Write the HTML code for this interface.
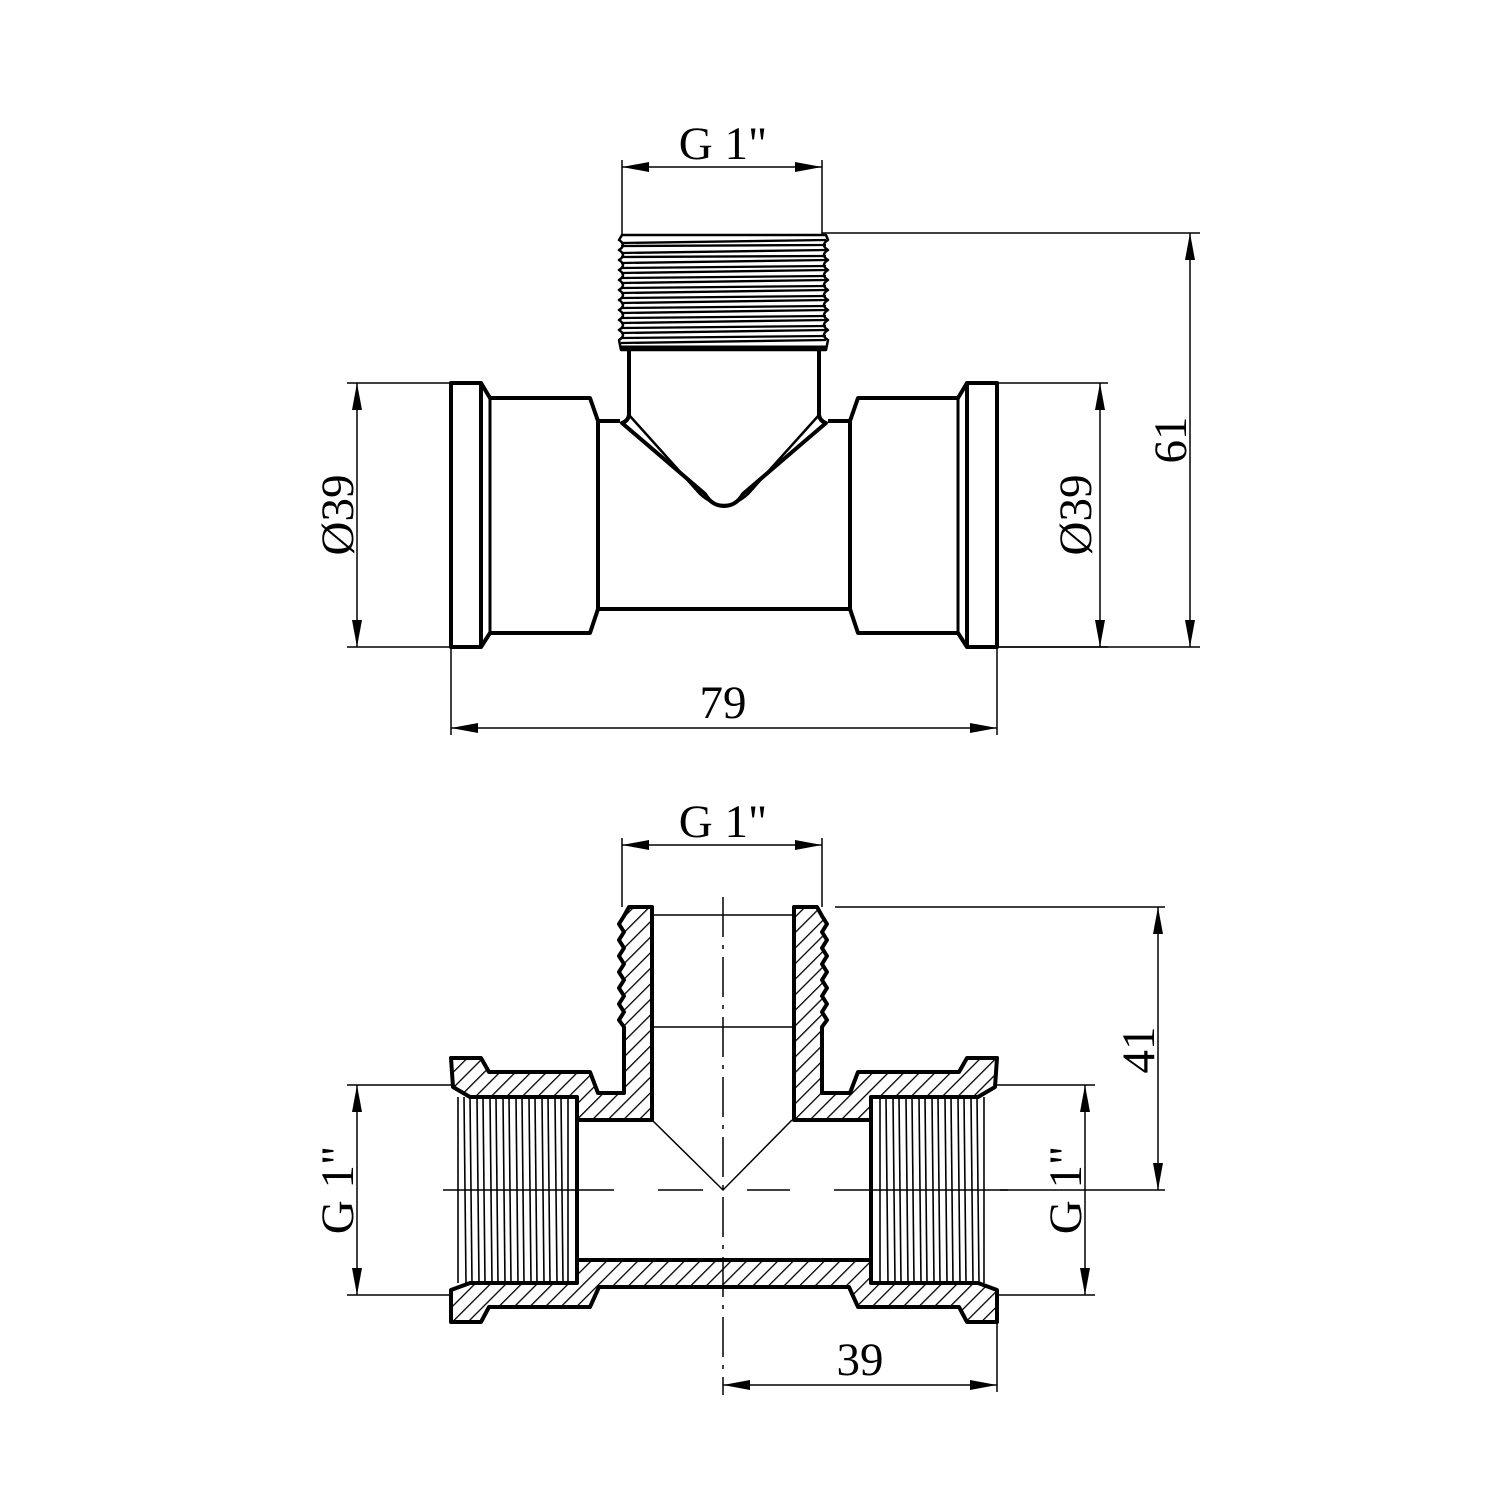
<!DOCTYPE html>
<html><head><style>html,body{margin:0;padding:0;background:#fff}svg{display:block}</style></head><body>
<svg width="1500" height="1500" viewBox="0 0 1500 1500" xmlns="http://www.w3.org/2000/svg">
<defs>
<pattern id="h" width="11" height="11" patternUnits="userSpaceOnUse" patternTransform="rotate(45)">
<line x1="0" y1="0" x2="0" y2="11" stroke="#000" stroke-width="2.6"/>
</pattern>
<marker id="a" viewBox="0 0 27 10" refX="27" refY="5" markerWidth="27" markerHeight="10" markerUnits="userSpaceOnUse" orient="auto-start-reverse"><path d="M0,0 L27,5 L0,10 Z" fill="#000"/></marker>
</defs>
<g font-family="Liberation Serif, serif" font-size="47" fill="#000" text-anchor="middle">
<!-- ===== TOP VIEW ===== -->
<g stroke="#000" stroke-width="1.5" fill="none">
<line x1="622" y1="160" x2="622" y2="235"/><line x1="822" y1="160" x2="822" y2="235"/>
<line x1="622" y1="167" x2="822" y2="167" marker-start="url(#a)" marker-end="url(#a)"/>
<line x1="822" y1="233" x2="1200" y2="233"/><line x1="997" y1="647" x2="1200" y2="647"/>
<line x1="1190" y1="233" x2="1190" y2="647" marker-start="url(#a)" marker-end="url(#a)"/>
<line x1="347" y1="383" x2="451" y2="383"/><line x1="347" y1="647" x2="451" y2="647"/>
<line x1="357" y1="383" x2="357" y2="647" marker-start="url(#a)" marker-end="url(#a)"/>
<line x1="997" y1="383" x2="1108" y2="383"/><line x1="997" y1="647" x2="1108" y2="647"/>
<line x1="1100" y1="383" x2="1100" y2="647" marker-start="url(#a)" marker-end="url(#a)"/>
<line x1="451" y1="647" x2="451" y2="735"/><line x1="997" y1="647" x2="997" y2="735"/>
<line x1="451" y1="728" x2="997" y2="728" marker-start="url(#a)" marker-end="url(#a)"/>
</g>
<text x="723" y="159">G 1"</text>
<text x="723" y="718">79</text>
<text transform="translate(1186,440) rotate(-90)">61</text>
<text transform="translate(353,515) rotate(-90)">Ø39</text>
<text transform="translate(1091,515) rotate(-90)">Ø39</text>

<g stroke="#000" stroke-width="4" fill="none" stroke-linejoin="round">
<rect x="451" y="383" width="30" height="264"/>
<rect x="967" y="383" width="30" height="264"/>
<path d="M481,383 L490,398 L590,398 L598,421 L598,609 L590,633 L490,633 L481,647"/>
<line x1="490" y1="398" x2="490" y2="633" stroke-width="3"/>
<path d="M967,383 L958,398 L858,398 L850,421 L850,609 L858,633 L958,633 L967,647"/>
<line x1="958" y1="398" x2="958" y2="633" stroke-width="3"/>
<line x1="598" y1="609" x2="850" y2="609"/>
<line x1="598" y1="421" x2="620" y2="421"/><line x1="828" y1="421" x2="850" y2="421"/>
<path d="M629,348 L629,415 Q628,421 622,423 L705,494 Q712,506 724,506 Q736,506 743,494 L826,423 Q820,421 819,415 L819,348"/>
<path d="M629,415 L700,494 Q712,505 724,505 Q736,505 748,494 L819,415" stroke-width="2.5"/>
<path d="M622,235 L826,235 L828,240 Q820,245 828,250 Q820,255 828,260 Q820,265 828,270 Q820,275 828,280 Q820,285 828,290 Q820,295 828,300 Q820,305 828,310 Q820,315 828,320 Q820,325 828,330 Q820,335 828,340 L826,350 L621,350 L619,340 Q627,335 619,330 Q627,325 619,320 Q627,315 619,310 Q627,305 619,300 Q627,295 619,290 Q627,285 619,280 Q627,275 619,270 Q627,265 619,260 Q627,255 619,250 Q627,245 619,240 Z" stroke-width="2.5"/>
<line x1="621" y1="348" x2="826" y2="348" stroke-width="5"/>
</g>
<g stroke="#000" stroke-width="2.3">
<line x1="621" y1="243" x2="826" y2="240"/><line x1="621" y1="253" x2="826" y2="250"/>
<line x1="621" y1="263" x2="826" y2="260"/><line x1="621" y1="273" x2="826" y2="270"/>
<line x1="621" y1="283" x2="826" y2="280"/><line x1="621" y1="293" x2="826" y2="290"/>
<line x1="621" y1="303" x2="826" y2="300"/><line x1="621" y1="313" x2="826" y2="310"/>
<line x1="621" y1="323" x2="826" y2="320"/><line x1="621" y1="333" x2="826" y2="330"/>
<line x1="621" y1="343" x2="826" y2="340"/>
<line x1="621" y1="246" x2="826" y2="245"/><line x1="621" y1="257" x2="826" y2="256"/><line x1="621" y1="268" x2="826" y2="266"/>
<line x1="621" y1="278" x2="826" y2="276"/><line x1="621" y1="288" x2="826" y2="286"/>
<line x1="621" y1="298" x2="826" y2="296"/><line x1="621" y1="308" x2="826" y2="306"/><line x1="621" y1="318" x2="826" y2="316"/>
<line x1="621" y1="328" x2="826" y2="326"/><line x1="621" y1="338" x2="826" y2="336"/>
</g>

<!-- ===== BOTTOM VIEW ===== -->
<g stroke="#000" stroke-width="1.5" fill="none">
<line x1="622" y1="838" x2="622" y2="907"/><line x1="822" y1="838" x2="822" y2="907"/>
<line x1="622" y1="845" x2="822" y2="845" marker-start="url(#a)" marker-end="url(#a)"/>
<line x1="835" y1="907" x2="1165" y2="907"/><line x1="1000" y1="1190" x2="1165" y2="1190"/>
<line x1="1158" y1="907" x2="1158" y2="1190" marker-start="url(#a)" marker-end="url(#a)"/>
<line x1="347" y1="1085" x2="453" y2="1085"/><line x1="347" y1="1295" x2="453" y2="1295"/>
<line x1="357" y1="1085" x2="357" y2="1295" marker-start="url(#a)" marker-end="url(#a)"/>
<line x1="997" y1="1085" x2="1095" y2="1085"/><line x1="997" y1="1295" x2="1095" y2="1295"/>
<line x1="1085" y1="1085" x2="1085" y2="1295" marker-start="url(#a)" marker-end="url(#a)"/>
<line x1="997" y1="1322" x2="997" y2="1392"/>
<line x1="723" y1="1385" x2="997" y2="1385" marker-start="url(#a)" marker-end="url(#a)"/>
<line x1="723" y1="897" x2="723" y2="1395" stroke-dasharray="40,8,4,8"/>
<line x1="443" y1="1190" x2="614" y2="1190"/>
<line x1="658" y1="1190" x2="703" y2="1190"/>
<line x1="747" y1="1190" x2="790" y2="1190"/>
<line x1="834" y1="1190" x2="1008" y2="1190"/>
<path d="M652,1120 L723,1190 L792,1120"/>
<line x1="650" y1="1027" x2="796" y2="1027"/>
<line x1="650" y1="915" x2="796" y2="915"/>
</g>
<text x="723" y="837">G 1"</text>
<text x="860" y="1375">39</text>
<text transform="translate(1154,1050) rotate(-90)">41</text>
<text transform="translate(353,1190) rotate(-90)">G 1"</text>
<text transform="translate(1081,1190) rotate(-90)">G 1"</text>

<g stroke="#000" stroke-width="4" fill="url(#h)" stroke-linejoin="round">
<path d="M451,1058 L481,1058 L489,1072 L590,1072 L598,1093 L624,1093 L624,1027 L619,1020 L624,1012 L619,1004 L624,996 L619,988 L624,980 L619,972 L624,964 L619,956 L624,948 L619,940 L624,932 L619,924 L624,916 L629,907 L652,907 L652,1120 L577,1120 L577,1097 L470,1097 L453,1087 Z"/>
<path d="M997,1058 L967,1058 L959,1072 L858,1072 L850,1093 L822,1093 L822,1027 L827,1020 L822,1012 L827,1004 L822,996 L827,988 L822,980 L827,972 L822,964 L827,956 L822,948 L827,940 L822,932 L827,924 L822,916 L817,907 L794,907 L794,1120 L871,1120 L871,1097 L978,1097 L995,1087 Z"/>
<path d="M451,1290 L470,1283 L577,1283 L577,1260 L871,1260 L871,1283 L978,1283 L997,1290 L997,1322 L967,1322 L959,1307 L858,1307 L849,1287 L599,1287 L590,1307 L489,1307 L481,1322 L451,1322 Z"/>
</g>
<g stroke="#000" stroke-width="1.6">
<line x1="458" y1="1097" x2="458" y2="1283"/><line x1="464" y1="1097" x2="466" y2="1283"/><line x1="470" y1="1097" x2="472" y2="1283"/><line x1="477" y1="1097" x2="479" y2="1283"/><line x1="483" y1="1097" x2="485" y2="1283"/><line x1="490" y1="1097" x2="492" y2="1283"/><line x1="496" y1="1097" x2="498" y2="1283"/><line x1="503" y1="1097" x2="505" y2="1283"/><line x1="509" y1="1097" x2="511" y2="1283"/><line x1="516" y1="1097" x2="518" y2="1283"/><line x1="522" y1="1097" x2="524" y2="1283"/><line x1="529" y1="1097" x2="531" y2="1283"/><line x1="535" y1="1097" x2="537" y2="1283"/><line x1="542" y1="1097" x2="544" y2="1283"/><line x1="548" y1="1097" x2="550" y2="1283"/><line x1="555" y1="1097" x2="557" y2="1283"/><line x1="561" y1="1097" x2="563" y2="1283"/><line x1="568" y1="1097" x2="568" y2="1283"/>
<line x1="880" y1="1097" x2="880" y2="1283"/><line x1="886" y1="1097" x2="888" y2="1283"/><line x1="893" y1="1097" x2="895" y2="1283"/><line x1="899" y1="1097" x2="901" y2="1283"/><line x1="906" y1="1097" x2="908" y2="1283"/><line x1="912" y1="1097" x2="914" y2="1283"/><line x1="919" y1="1097" x2="921" y2="1283"/><line x1="925" y1="1097" x2="927" y2="1283"/><line x1="932" y1="1097" x2="934" y2="1283"/><line x1="938" y1="1097" x2="940" y2="1283"/><line x1="945" y1="1097" x2="947" y2="1283"/><line x1="951" y1="1097" x2="953" y2="1283"/><line x1="958" y1="1097" x2="960" y2="1283"/><line x1="964" y1="1097" x2="966" y2="1283"/><line x1="971" y1="1097" x2="973" y2="1283"/><line x1="977" y1="1097" x2="979" y2="1283"/><line x1="984" y1="1097" x2="984" y2="1283"/>
</g>
<g stroke="#000" stroke-width="4">
<line x1="577" y1="1120" x2="577" y2="1260"/><line x1="871" y1="1120" x2="871" y2="1260"/>
</g>
</g>
</svg>
</body></html>
